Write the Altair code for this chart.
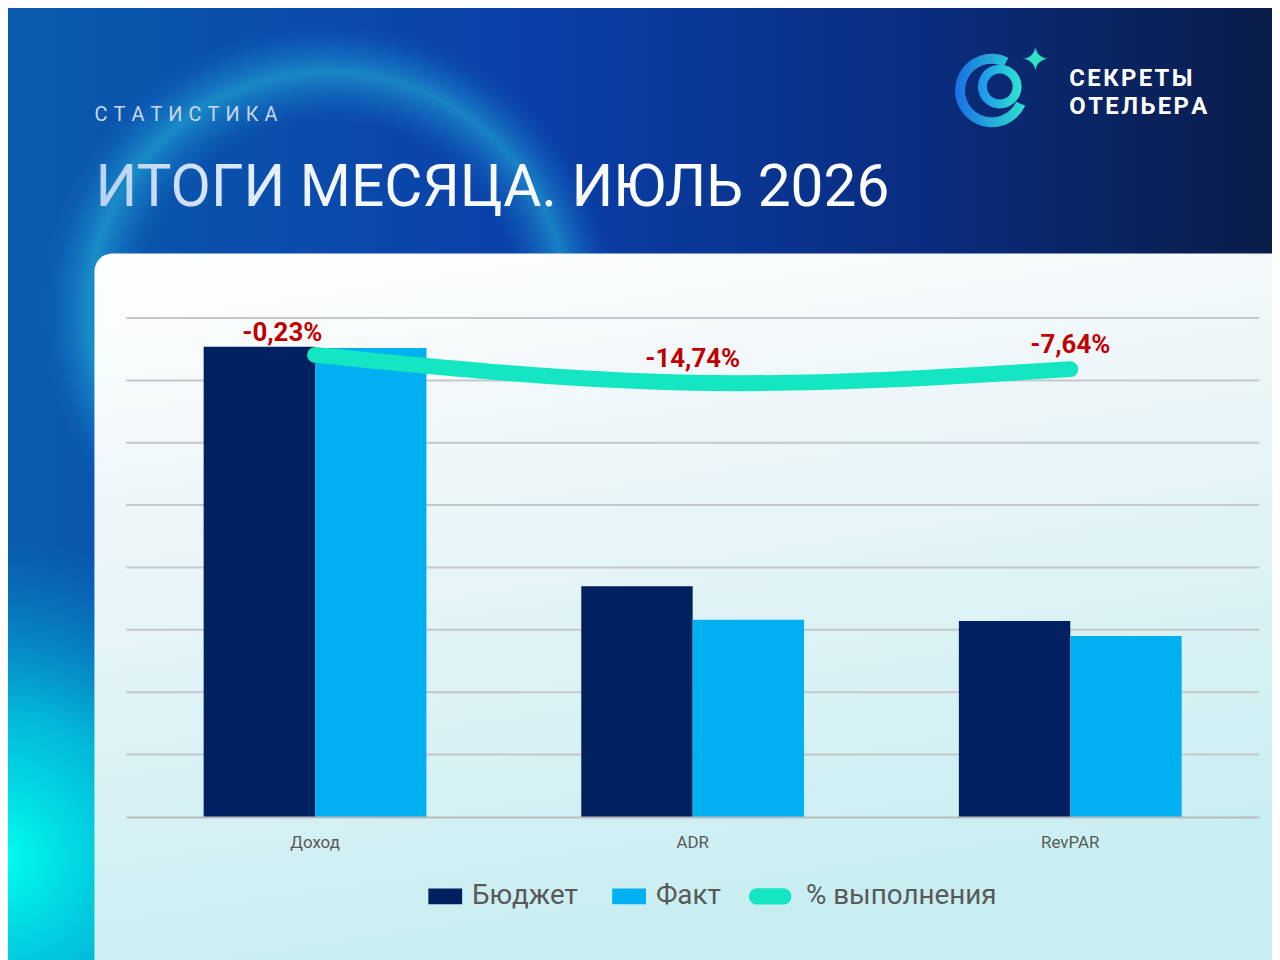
import altair as alt
import pandas as pd

# ---- data ----
categories = ["Доход", "ADR", "RevPAR"]
budget = [7.54, 3.70, 3.14]
fact = [7.52, 3.16, 2.90]
pct_change = [-0.23, -14.74, -7.64]
series_names = ["Бюджет", "Факт"]
line_name = "% выполнения"
grid_ticks = [1, 2, 3, 4, 5, 6, 7, 8]

W, H = 1140, 502
OX, OY = 127, 317  # plot origin on page


def px(x):
    return x - OX


def py(y):
    return y - OY


bars_df = pd.DataFrame(
    [{"cat": c, "series": series_names[0], "v": b} for c, b in zip(categories, budget)]
    + [{"cat": c, "series": series_names[1], "v": f} for c, f in zip(categories, fact)]
)
line_df = pd.DataFrame({
    "cat": categories,
    "perf": [100 + p for p in pct_change],
    "label": [("%.2f%%" % p).replace(".", ",") for p in pct_change],
    "lab": [line_name] * 3,
})
grid_df = pd.DataFrame({"t": grid_ticks})
one = pd.DataFrame({"a": [0]})

xenc = alt.X("cat:N", sort=categories, title=None,
             scale=alt.Scale(paddingInner=0.41, paddingOuter=0.205),
             axis=alt.Axis(labelFontSize=17, labelColor="#595959", labelFont="Roboto",
                           domainColor="#b8bcc0", domainWidth=2, ticks=False,
                           labelPadding=18, labelAngle=0, zindex=1, grid=False))


def grad(stops, x1=0, y1=0, x2=1, y2=0):
    return alt.LinearGradient(gradient="linear",
                              stops=[alt.GradientStop(color=c, offset=o) for o, c in stops],
                              x1=x1, y1=y1, x2=x2, y2=y2)


def rgrad(stops):
    return alt.RadialGradient(gradient="radial",
                              stops=[alt.GradientStop(color=c, offset=o) for o, c in stops],
                              x1=0.5, y1=0.5, r1=0, x2=0.5, y2=0.5, r2=0.5)


def rect(x0, y0, x1, y1, fill, **kw):
    return alt.Chart(one).mark_rect(fill=fill, **kw).encode(
        x=alt.value(px(x0)), x2=alt.value(px(x1)),
        y=alt.value(py(y0)), y2=alt.value(py(y1)))


bg = rect(0, 0, 1290, 970, grad([(0, "#0a5cae"), (0.42, "#0a3fa8"),
                                  (0.7, "#092e82"), (1, "#0a1c48")]))
glow = rect(-320, 540, 320, 1180, rgrad([(0, "rgba(0,255,240,1)"),
                                         (0.45, "rgba(0,225,235,0.7)"),
                                         (1, "rgba(0,160,220,0)")]))
ring = rect(40, 20, 620, 600, rgrad([(0, "rgba(30,140,220,0)"),
                                     (0.66, "rgba(30,140,220,0)"),
                                     (0.83, "rgba(40,195,225,0.5)"),
                                     (0.92, "rgba(30,150,220,0.25)"),
                                     (1, "rgba(20,100,200,0)")]))
card = rect(95, 252, 1290, 970,
            grad([(0, "#ffffff"), (0.35, "#eef6f9"), (1, "#c8eef1")], 0, 0, 0.25, 1),
            cornerRadiusTopLeft=18)

grid = alt.Chart(grid_df).mark_rule(color="#c4c7cb", strokeWidth=2).encode(
    y=alt.Y("t:Q", scale=alt.Scale(domain=[0, 8]), axis=None),
    x=alt.value(0), x2=alt.value(W))

sym_rect = "M-1,-0.47H1V0.47H-1Z"
bars = alt.Chart(bars_df).mark_bar().encode(
    x=xenc,
    xOffset=alt.XOffset("series:N", sort=series_names),
    y=alt.Y("v:Q", scale=alt.Scale(domain=[0, 8]), axis=None),
    color=alt.Color("series:N", sort=series_names,
                    scale=alt.Scale(domain=series_names, range=["#002060", "#00b0f0"]),
                    legend=alt.Legend(orient="none", legendX=px(431), legendY=py(882),
                                      direction="horizontal", title=None,
                                      symbolType=sym_rect, symbolSize=1156,
                                      symbolStrokeWidth=0,
                                      labelFontSize=28, labelColor="#595959",
                                      labelFont="Roboto", labelOffset=10,
                                      columnPadding=34, labelLimit=400)),
)

pill = "M-0.6,-0.37H0.6A0.37,0.37 0 0 1 0.6,0.37H-0.6A0.37,0.37 0 0 1 -0.6,-0.37Z"
line = alt.Chart(line_df).mark_line(strokeWidth=16, strokeCap="round",
                                    interpolate="natural").encode(
    x=alt.X("cat:N", sort=categories),
    y=alt.Y("perf:Q", scale=alt.Scale(domain=[-141, 119]), axis=None),
    stroke=alt.Stroke("lab:N", scale=alt.Scale(domain=[line_name], range=["#14e6c1"]),
                      legend=alt.Legend(orient="none", legendX=px(753), legendY=py(877),
                                        title=None, symbolType=pill, symbolSize=1936,
                                        symbolFillColor="#14e6c1", symbolStrokeWidth=0,
                                        labelFontSize=28, labelColor="#595959",
                                        labelFont="Roboto", labelOffset=14,
                                        labelLimit=400)),
)

lbl_enc = dict(x=alt.X("cat:N", sort=categories),
               y=alt.Y("perf:Q", scale=alt.Scale(domain=[-141, 119]), axis=None),
               text="label:N")
labels_main = alt.Chart(line_df).transform_filter(
    alt.datum.cat != categories[0]).mark_text(
    font="Roboto", fontWeight="bold", fontSize=26, color="#c00000", dy=-16,
    baseline="alphabetic").encode(**lbl_enc)
labels_first = alt.Chart(line_df).transform_filter(
    alt.datum.cat == categories[0]).mark_text(
    font="Roboto", fontWeight="bold", fontSize=26, color="#c00000", dy=-14, dx=-33,
    baseline="alphabetic").encode(**lbl_enc)


def txt(s, x, y, **kw):
    return alt.Chart(one).mark_text(text=s, align="left", baseline="alphabetic", **kw).encode(
        x=alt.value(px(x)), y=alt.value(py(y)))


hs = "\u2009\u200a"
kicker = txt(hs.join("СТАТИСТИКА"), 95, 119, font="Roboto", fontSize=20, color="#c9d8ee")
title = txt("ИТОГИ МЕСЯЦА. ИЮЛЬ 2026", 96, 204, font="Roboto", fontSize=59,
            fill=grad([(0, "#b7d2f4"), (0.3, "#f4f8ff"), (1, "#ffffff")]))
ls = "\u200a"
logo1 = txt(ls.join("СЕКРЕТЫ"), 1076, 83, font="Roboto", fontWeight="bold", fontSize=24,
            color="#ffffff")
logo2 = txt(ls.join("ОТЕЛЬЕРА"), 1076, 112, font="Roboto", fontWeight="bold", fontSize=24,
            color="#ffffff")
star = alt.Chart(one).mark_text(text="\u2726", font="DejaVu Sans", fontSize=34,
                                color="#2fe3c8", baseline="middle", align="center").encode(
    x=alt.value(px(1042)), y=alt.value(py(58)))


def arc(cx, cy, r, r2, t1, t2, fill):
    return alt.Chart(one).mark_arc(fill=fill).encode(
        x=alt.value(px(cx)), y=alt.value(py(cy)),
        theta=alt.value(t1), theta2=alt.value(t2),
        radius=alt.value(r), radius2=alt.value(r2))


outer = arc(998, 88, 37, 27, 2.0, 6.75, grad([(0, "#1a6fe6"), (1, "#2ee0d0")]))
inner = arc(1006, 84, 22, 13, 0, 6.2832, grad([(0, "#1f8ff0"), (1, "#2ee6cf")]))

chart = alt.layer(
    bg, glow, ring, card, grid, bars, line, labels_main, labels_first,
    kicker, title, logo1, logo2, star, outer, inner
).resolve_scale(y="independent", color="independent").properties(
    width=W, height=H,
    padding={"left": 119, "top": 309, "right": 13, "bottom": 141},
    autosize=alt.AutoSizeParams(type="none"),
).configure_view(strokeWidth=0)

chart.save("out.html", embed_options={"renderer": "svg", "actions": False})
